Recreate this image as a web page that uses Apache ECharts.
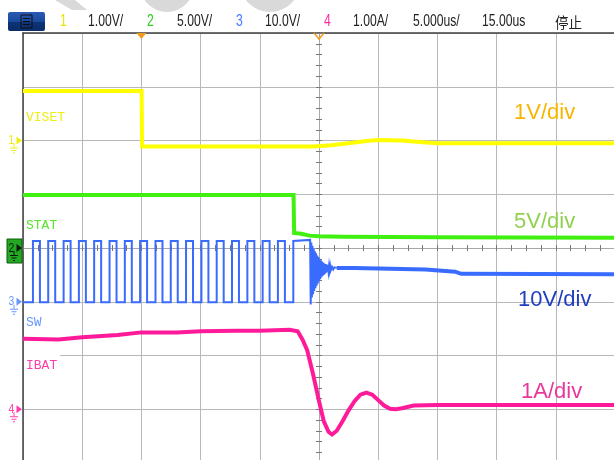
<!DOCTYPE html>
<html><head><meta charset="utf-8">
<script src="https://cdn.jsdelivr.net/npm/echarts@6/dist/echarts.min.js"></script>
<style>html,body{margin:0;padding:0;background:#fff}#c{width:614px;height:460px}</style>
</head><body><div id="c"></div>
<script>
// ---------------- data ----------------
const chNames   = ['VISET', 'STAT', 'SW', 'IBAT'];
const chScales  = [1, 5, 10, 1];          // units per division
const chOffsets = [2, 0, -1, -3];         // ground level, in divisions from centre
const divLabels = ['1V/div', '5V/div', '10V/div', '1A/div'];
const headerTexts = ['1', '1.00V/', '2', '5.00V/', '3', '10.0V/', '4', '1.00A/', '5.000us/', '15.00us', '停止'];
const timeMin = -25, timeMax = 25, timeStep = 5;   // µs, 5 µs/div
const divMin = -4, divMax = 4;
const screenCentre = 25;                  // µs from left edge
const trigTime = 10;                      // µs from left edge

// time (µs from left edge), value (V or A)
const viset = [[0,0.92],[10.02,0.92],[10.06,-0.11],[24.5,-0.11],[26,-0.09],[27.5,-0.05],[29,-0.01],[30,0.01],[32,0.0],[33.5,-0.03],[35,-0.05],[50,-0.05]];
const stat  = [[0,4.93],[22.85,4.93],[22.9,1.40],[23.5,1.33],[24.2,1.15],[25,1.1],[27,1.05],[35,1.0],[50,0.96]];
const swRise = [0.84,2.13,3.43,4.72,6.01,7.31,8.60,9.89,11.19,12.48,13.77,15.07,16.36,17.65,18.95,20.24,21.53,22.83];
const swFall = [1.43,2.72,4.02,5.31,6.60,7.90,9.19,10.48,11.78,13.07,14.36,15.66,16.95,18.24,19.54,20.83,22.12];
const swHigh = 11.3, swLow = -0.1;
const swRing = [[24.25,11.5],[24.30,-0.5],[24.35,11.0],[24.40,0.8],[24.45,10.4],[24.50,1.4],[24.55,9.9],[24.60,2.0],[24.65,9.4],[24.70,2.5],[24.75,9.0],[24.80,3.0],[24.85,8.6],[24.90,3.4],[24.95,8.3],[25.00,3.8],[25.05,8.0],[25.10,4.2],[25.15,7.7],[25.20,4.5],[25.25,7.5],[25.30,4.8],[25.35,7.3],[25.40,5.0],[25.45,7.1],[25.50,5.2],[25.55,7.0],[25.60,5.4],[25.65,6.9],[25.70,5.6],[25.75,6.8],[25.80,5.7],[25.85,6.7],[25.90,5.8],[25.95,6.6],[26.00,5.9],[26.10,6.5],[26.20,6.0],[26.30,6.4],[26.40,6.1],[26.50,6.3]];
const swSettle = [[26.50,6.3],[28.0,6.3],[30.0,6.2],[34.0,6.0],[36.5,5.6],[37.0,5.2],[50.0,5.1]];
const ibat = [[0,1.31],[3,1.30],[5,1.34],[8,1.38],[10,1.43],[13,1.43],[15,1.45],[18,1.46],[20,1.46],[22.5,1.48],[23.2,1.45],[23.6,1.30],[24.0,1.10],[24.5,0.65],[25.0,0.15],[25.4,-0.22],[25.8,-0.42],[26.1,-0.47],[26.5,-0.40],[27.0,-0.22],[27.5,-0.02],[28.0,0.15],[28.5,0.27],[29.0,0.31],[29.5,0.27],[30.0,0.17],[30.5,0.07],[31.0,0.01],[31.5,0.0],[32.0,0.02],[33.0,0.07],[35,0.08],[50,0.08]];

// ---------------- build ----------------
function toDiv(arr, ch) {
  return arr.map(p => [p[0] - screenCentre, chOffsets[ch] + p[1] / chScales[ch]]);
}
const swPulses = [[0, swLow]];
swRise.forEach((r, i) => {
  swPulses.push([r, swLow], [r, swHigh]);
  if (swFall[i] !== undefined) swPulses.push([swFall[i], swHigh], [swFall[i], swLow]);
});
swPulses.push(...swRing);

const colors = ['#ffff00', '#40f010', '#3a6bff', '#ff1a99'];
const labelColors = ['#eeee10', '#55e62a', '#6a96ff', '#ff3da8'];
const divColors = ['#f7b500', '#92d050', '#1f3fbf', '#e8389a'];

function line(data, ch, w) {
  return { type: 'line', data: toDiv(data, ch), xAxisIndex: 0, yAxisIndex: 0, showSymbol: false, symbol: 'none',
    lineStyle: { color: colors[ch], width: w, join: 'miter' }, animation: false, silent: true, z: 3 + ch };
}

const gridCol = '#b8b8b8';
const centreAxis = (pos, inside, isX) => ({
  type: 'value', min: isX ? timeMin : divMin, max: isX ? timeMax : divMax, interval: isX ? timeStep : 1,
  position: pos,
  axisLine: { show: true, onZero: true, onZeroAxisIndex: 0, lineStyle: { color: '#a8a8a8', width: 1 } },
  axisTick: { show: true, inside: inside, length: 3, lineStyle: { color: '#777' } },
  minorTick: { show: true, splitNumber: isX ? 4 : 5, length: 3, lineStyle: { color: '#777' } },
  axisLabel: { show: false }, splitLine: { show: false }
});

const chart = echarts.init(document.getElementById('c'), null, { renderer: 'canvas' });
const option = {
  animation: false,
  backgroundColor: '#ffffff',
  grid: { left: 23, top: 33, right: -1, bottom: -3, outerBoundsMode: 'none', containLabel: false },
  xAxis: [
    { type: 'value', min: timeMin, max: timeMax, interval: timeStep, position: 'bottom',
      axisLine: { show: false, onZero: false }, axisTick: { show: false }, axisLabel: { show: false },
      splitLine: { show: true, lineStyle: { color: gridCol, width: 1 } } },
    { type: 'value', min: timeMin, max: timeMax, interval: timeStep, position: 'top',
      axisLine: { show: true, onZero: false, lineStyle: { color: '#404040', width: 1.5 } },
      axisTick: { show: false }, axisLabel: { show: false }, splitLine: { show: false } },
    centreAxis('bottom', false, true),
    centreAxis('bottom', true, true)
  ],
  yAxis: [
    { type: 'value', min: divMin, max: divMax, interval: 1, position: 'left',
      axisLine: { show: true, onZero: false, lineStyle: { color: '#404040', width: 1.5 } },
      axisTick: { show: false }, axisLabel: { show: false },
      splitLine: { show: true, lineStyle: { color: gridCol, width: 1 } } },
    centreAxis('left', false, false),
    centreAxis('left', true, false)
  ],
  series: [
    line(viset, 0, 4),
    line(stat, 1, 4),
    line(swPulses, 2, 2),
    line(swSettle, 2, 4),
    line(ibat, 3, 4)
  ]
};
chart.setOption(option);

// ---------------- decorations ----------------
const yPix = v => chart.convertToPixel({ yAxisIndex: 0 }, v);
const xPix = t => chart.convertToPixel({ xAxisIndex: 0 }, t - screenCentre);
const g = [];
// watermark fragments
g.push({ type: 'polygon', shape: { points: [[55,0],[75,0],[87,10],[72,10]] }, style: { fill: '#d9d9d9' }, z: 1 });
g.push({ type: 'circle', shape: { cx: 167, cy: -15, r: 27 }, style: { fill: '#d9d9d9' }, z: 1 });
g.push({ type: 'circle', shape: { cx: 270, cy: -18, r: 30 }, style: { fill: '#d9d9d9' }, z: 1 });
// menu icon
g.push({ type: 'rect', shape: { x: 8, y: 12, width: 37, height: 19, r: 2 },
  style: { fill: new echarts.graphic.LinearGradient(0, 0, 0, 1, [{ offset: 0, color: '#2a5bb5' }, { offset: 0.5, color: '#1a4a9c' }, { offset: 0.55, color: '#0d3478' }, { offset: 1, color: '#0a2c68' }]) }, z: 10 });
g.push({ type: 'rect', shape: { x: 21, y: 15, width: 11, height: 13 }, style: { fill: 'none', stroke: '#101010', lineWidth: 1 }, z: 11 });
[18.5, 21.5, 24.5].forEach(yy => g.push({ type: 'line', shape: { x1: 23, y1: yy, x2: 30, y2: yy }, style: { stroke: '#101010', lineWidth: 1 }, z: 11 }));
// header texts
const headerX = [60, 88, 147, 177, 236, 265, 324, 353, 413, 482, 555];
const headerCol = ['#e6e600', '#222', '#33cc22', '#222', '#4a7bff', '#222', '#ff2aa0', '#222', '#222', '#222', '#222'];
headerTexts.forEach((t, i) => {
  const cjk = /[^\x00-\x7f]/.test(t);
  g.push({ type: 'text', x: headerX[i], y: 22, scaleX: cjk ? 0.9 : 0.76, z: 10,
    style: { text: t, fill: headerCol[i], font: cjk ? '15px "Noto Sans CJK SC"' : '16px "Liberation Sans"', textVerticalAlign: 'middle', verticalAlign: 'middle' } });
});
// trigger & centre markers
const tx = xPix(trigTime), cx = xPix(screenCentre);
g.push({ type: 'polygon', shape: { points: [[tx-5,33],[tx+5,33],[tx,39]] }, style: { fill: '#f39a1e' }, z: 12 });
g.push({ type: 'polyline', shape: { points: [[cx-5,33],[cx,39],[cx+5,33]] }, style: { stroke: '#f39a1e', lineWidth: 1.5, fill: 'none' }, z: 12 });
// channel ground markers
[0, 1, 2, 3].forEach(ch => {
  const y = yPix(chOffsets[ch]);
  const boxed = ch === 1;
  const c = boxed ? '#0c1a0c' : labelColors[ch];
  if (boxed) g.push({ type: 'rect', shape: { x: 7, y: y - 9, width: 15, height: 24 }, style: { fill: '#22a822', stroke: '#0d5e0d', lineWidth: 1 }, z: 12 });
  g.push({ type: 'text', x: 8.5, y: y, scaleX: 0.8, z: 13, style: { text: String(ch + 1), fill: c, font: '13px "Liberation Sans"', verticalAlign: 'middle' } });
  g.push({ type: 'polygon', shape: { points: [[16.5,y-4],[22,y],[16.5,y+4]] }, style: { fill: c }, z: 13 });
  g.push({ type: 'line', shape: { x1: 14, y1: y + 3, x2: 14, y2: y + 7 }, style: { stroke: c, lineWidth: 1 }, z: 13 });
  g.push({ type: 'line', shape: { x1: 10, y1: y + 7.5, x2: 18, y2: y + 7.5 }, style: { stroke: c, lineWidth: 1 }, z: 13 });
  g.push({ type: 'line', shape: { x1: 11.5, y1: y + 10, x2: 16.5, y2: y + 10 }, style: { stroke: c, lineWidth: 1 }, z: 13 });
  g.push({ type: 'line', shape: { x1: 13, y1: y + 12.5, x2: 15, y2: y + 12.5 }, style: { stroke: c, lineWidth: 1 }, z: 13 });
});
// channel name labels
const nameY = [118, 226, 323, 366];
g.push({ type: 'rect', shape: { x: 24, y: 352, width: 36, height: 8 }, style: { fill: '#fff' }, z: 2 });
chNames.forEach((n, i) => g.push({ type: 'text', x: 26, y: nameY[i], z: 8,
  style: { text: n, fill: labelColors[i], font: '13px "Liberation Mono"', verticalAlign: 'middle' } }));
// V/div annotations
const annX = [514, 514, 518, 521], annY = [113, 222, 300, 392];
divLabels.forEach((t, i) => g.push({ type: 'text', x: annX[i], y: annY[i], z: 9,
  style: { text: t, fill: divColors[i], font: '22px "Liberation Sans"', verticalAlign: 'middle' } }));

chart.setOption({ graphic: { elements: g } });
</script></body></html>
